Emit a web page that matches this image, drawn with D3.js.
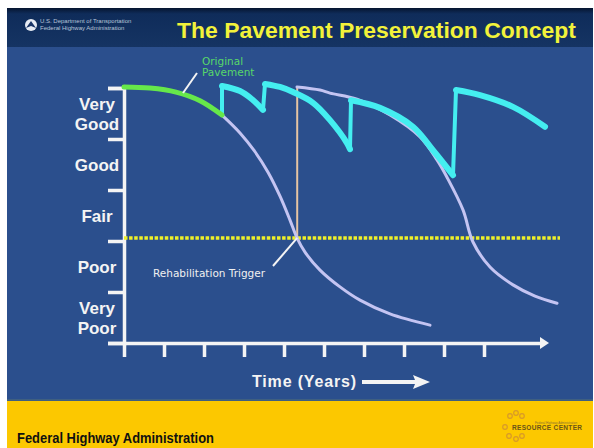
<!DOCTYPE html>
<html><head><meta charset="utf-8">
<script src="https://cdn.jsdelivr.net/npm/d3@7"></script>
<style>html,body{margin:0;padding:0;background:#fff;}svg{display:block;}</style>
</head><body>
<svg id="c" width="594" height="448"></svg>
<script>
// ---- data ----
const titleText = "The Pavement Preservation Concept";
const bandLabels = [["Very","Poor"],["Poor"],["Fair"],["Good"],["Very","Good"]]; // condition bands 0-1 ... 4-5
const yTicks = [0,1,2,3,4,5];
const xTicks = [0,1,2,3,4,5,6,7,8,9];
const xLabel = "Time (Years)";
// original pavement (years, condition)
const originalYears = [0, 0.65, 1.3, 1.9, 2.45];
const originalCond  = [5.02, 5.0, 4.92, 4.75, 4.47];
// deterioration without treatment
const decay1Years = [2.45, 2.9, 3.275, 3.6, 3.9, 4.15, 4.325, 4.525, 4.9, 5.4, 5.9, 6.65, 7.65];
const decay1Cond  = [4.47, 4.12, 3.75, 3.35, 2.88, 2.41, 2.06, 1.78, 1.43, 1.10, 0.84, 0.57, 0.35];
// deterioration after rehabilitation
const decay2Years = [4.325, 4.9, 5.15, 5.825, 6.65, 7.4, 7.825, 8.075, 8.475, 8.725, 9.15, 9.725, 10.275, 10.825];
const decay2Cond  = [5.02, 4.96, 4.90, 4.78, 4.47, 4.04, 3.59, 3.25, 2.61, 1.98, 1.49, 1.14, 0.92, 0.78];
// preservation treatments (each segment starts right after a treatment)
const presSeg1 = [[2.45,5.04],[2.9,4.94],[3.2,4.78],[3.475,4.57]];
const presSeg2 = [[3.525,5.08],[3.9,5.02],[4.225,4.92],[4.725,4.71],[5.15,4.37],[5.575,3.92],[5.65,3.80]];
const presSeg3 = [[5.675,4.76],[6.4,4.61],[7.225,4.24],[7.725,3.78],[8.225,3.29]];
const presSeg4 = [[8.3,4.96],[8.9,4.86],[9.725,4.63],[10.525,4.24]];
const triggerCond = 2.06;
const rehabYear = 4.33;
const rehabTop = 5.02;

// ---- layout ----
const svg = d3.select("#c");
const x = d3.scaleLinear().domain([0, 10.5]).range([124, 544]);
const y = d3.scaleLinear().domain([0, 5]).range([343, 88]);

// slide background
svg.append("rect").attr("x",7).attr("y",8).attr("width",586).attr("height",440).attr("fill","#2b4f8d");
const defs = svg.append("defs");
const g1 = defs.append("linearGradient").attr("id","top").attr("x1",0).attr("y1",0).attr("x2",0).attr("y2",1);
g1.append("stop").attr("offset","0").attr("stop-color","#06152f");
g1.append("stop").attr("offset","0.15").attr("stop-color","#0f2c5a");
g1.append("stop").attr("offset","1").attr("stop-color","#153463");
svg.append("rect").attr("x",7).attr("y",8).attr("width",586).attr("height",39).attr("fill","url(#top)");
svg.append("rect").attr("x",7).attr("y",401).attr("width",586).attr("height",47).attr("fill","#fcc800");
svg.append("rect").attr("x",7).attr("y",399).attr("width",586).attr("height",2).attr("fill","#3f5f80");

// header logo
svg.append("circle").attr("cx",31).attr("cy",25).attr("r",6).attr("fill","#e8ecf4");
svg.append("path").attr("d","M26,28 L31,21 L36,28 L31,26 Z").attr("fill","#1a3566");
svg.append("text").attr("x",40).attr("y",23).attr("font-family","Liberation Sans, Arial, sans-serif")
  .attr("font-size",6).attr("fill","#b8c4d8").text("U.S. Department of Transportation");
svg.append("text").attr("x",40).attr("y",30).attr("font-family","Liberation Sans, Arial, sans-serif")
  .attr("font-size",6).attr("fill","#b8c4d8").text("Federal Highway Administration");

// title
svg.append("text").attr("x",177).attr("y",38)
  .attr("font-family","Liberation Sans, Arial, sans-serif").attr("font-weight","bold").attr("font-size",21.5)
  .attr("fill","#f2f23a").attr("textLength",399).attr("lengthAdjust","spacingAndGlyphs").text(titleText);

// axes
const yAxis = d3.axisLeft(y).tickValues(yTicks).tickSize(16).tickSizeOuter(16).tickFormat("");
const ya = svg.append("g").attr("transform","translate(124,0)").call(yAxis);
ya.selectAll("path,line").attr("stroke","#f4f4f4").attr("stroke-width",3.5);
ya.select(".domain").attr("fill","none");

const xAxis = d3.axisBottom(x).tickValues(xTicks).tickSize(14).tickSizeOuter(0).tickFormat("");
const xa = svg.append("g").attr("transform","translate(0,343)").call(xAxis);
xa.selectAll("path,line").attr("stroke","#f4f4f4").attr("stroke-width",3.5);
xa.select(".domain").attr("fill","none");
svg.append("path").attr("d",`M${x(10.5)-4},337 L${x(10.5)+5},343 L${x(10.5)-4},349 Z`).attr("fill","#f4f4f4");

// band labels
const lab = svg.append("g").attr("font-family","Liberation Sans, Arial, sans-serif").attr("font-weight","bold")
  .attr("font-size",17).attr("fill","#f4f4f4").attr("text-anchor","middle");
bandLabels.forEach((lines,i)=>{
  const mid = y(i+0.5) + 6;
  const t = lab.append("text").attr("x",97);
  lines.forEach((s,j)=>{
    const off = lines.length===1 ? 0 : (j===0 ? -10 : 10);
    t.append("tspan").attr("x",97).attr("y",mid+off).text(s);
  });
});

// trigger dotted line
svg.append("line").attr("x1",x(0)).attr("x2",560).attr("y1",y(triggerCond)).attr("y2",y(triggerCond))
  .attr("stroke","#eef028").attr("stroke-width",3.5).attr("stroke-dasharray","3.5,1.6");

// rehab vertical line
svg.append("line").attr("x1",x(rehabYear)).attr("x2",x(rehabYear)).attr("y1",y(rehabTop)).attr("y2",y(triggerCond))
  .attr("stroke","#e6c4a2").attr("stroke-width",2);

const line = d3.line().x(d=>x(d[0])).y(d=>y(d[1])).curve(d3.curveCatmullRom.alpha(0.5));
const zip = (a,b)=>a.map((v,i)=>[v,b[i]]);

// deterioration curves
svg.append("path").attr("d",line(zip(decay1Years,decay1Cond))).attr("fill","none")
  .attr("stroke","#c4c4f2").attr("stroke-width",3).attr("stroke-linecap","round");
svg.append("path").attr("d",line(zip(decay2Years,decay2Cond))).attr("fill","none")
  .attr("stroke","#c4c4f2").attr("stroke-width",3).attr("stroke-linecap","round");

// preservation sawtooth
const segs = [presSeg1,presSeg2,presSeg3,presSeg4];
const cyan = "#44eef0";
const straight = d3.line().x(d=>x(d[0])).y(d=>y(d[1]));
let prevEnd = [originalYears[originalYears.length-1], originalCond[originalCond.length-1]];
segs.forEach(s=>{
  svg.append("path").attr("d",straight([prevEnd,s[0]])).attr("fill","none")
    .attr("stroke",cyan).attr("stroke-width",4).attr("stroke-linecap","round");
  svg.append("path").attr("d",line(s)).attr("fill","none")
    .attr("stroke",cyan).attr("stroke-width",6).attr("stroke-linecap","round").attr("stroke-linejoin","round");
  prevEnd = s[s.length-1];
});

// original pavement
svg.append("path").attr("d",line(zip(originalYears,originalCond))).attr("fill","none")
  .attr("stroke","#66e84a").attr("stroke-width",5).attr("stroke-linecap","round");

// annotations
svg.append("line").attr("x1",197).attr("y1",73).attr("x2",183).attr("y2",93).attr("stroke","#f4f4f4").attr("stroke-width",2);
const ann = svg.append("text").attr("font-family","DejaVu Sans, sans-serif").attr("font-size",10.5).attr("fill","#58d86a");
ann.append("tspan").attr("x",202).attr("y",65).text("Original");
ann.append("tspan").attr("x",202).attr("y",76).text("Pavement");

svg.append("line").attr("x1",273).attr("y1",266).attr("x2",x(rehabYear)).attr("y2",y(triggerCond)).attr("stroke","#f4f4f4").attr("stroke-width",2);
svg.append("text").attr("x",153).attr("y",277).attr("font-family","DejaVu Sans, sans-serif").attr("font-size",10.5)
  .attr("fill","#f0f0f0").text("Rehabilitation Trigger");

// x label + arrow
svg.append("text").attr("x",252).attr("y",387).attr("font-family","Liberation Sans, Arial, sans-serif")
  .attr("font-weight","bold").attr("font-size",16).attr("fill","#f4f4f4").attr("textLength",104).text(xLabel);
svg.append("path").attr("d","M362,380 L415,380 L413,375 L430,382 L413,389 L415,384 L362,384 Z").attr("fill","#f4f4f4");

// footer
svg.append("text").attr("x",17).attr("y",443).attr("font-family","Liberation Sans Narrow, Arial Narrow, Liberation Sans, sans-serif")
  .attr("font-weight","bold").attr("font-size",15).attr("fill","#111").attr("textLength",197).attr("lengthAdjust","spacingAndGlyphs")
  .text("Federal Highway Administration");
const rc = svg.append("g");
[[510,416],[516,413],[522,416],[505,427],[509,436],[516,439],[522,436]].forEach(p=>{
  rc.append("circle").attr("cx",p[0]).attr("cy",p[1]).attr("r",2.3).attr("fill","none").attr("stroke","#d89a28").attr("stroke-width",1.2);
});
rc.append("text").attr("x",512).attr("y",430).attr("font-family","Liberation Sans, Arial, sans-serif").attr("font-weight","bold")
  .attr("font-size",6.5).attr("fill","#6a5418").attr("textLength",70).text("RESOURCE CENTER");
rc.append("text").attr("x",535).attr("y",424).attr("font-family","Liberation Sans, Arial, sans-serif")
  .attr("font-size",3).attr("fill","#8a7030").text("Federal Highway Administration");
</script>
</body></html>
